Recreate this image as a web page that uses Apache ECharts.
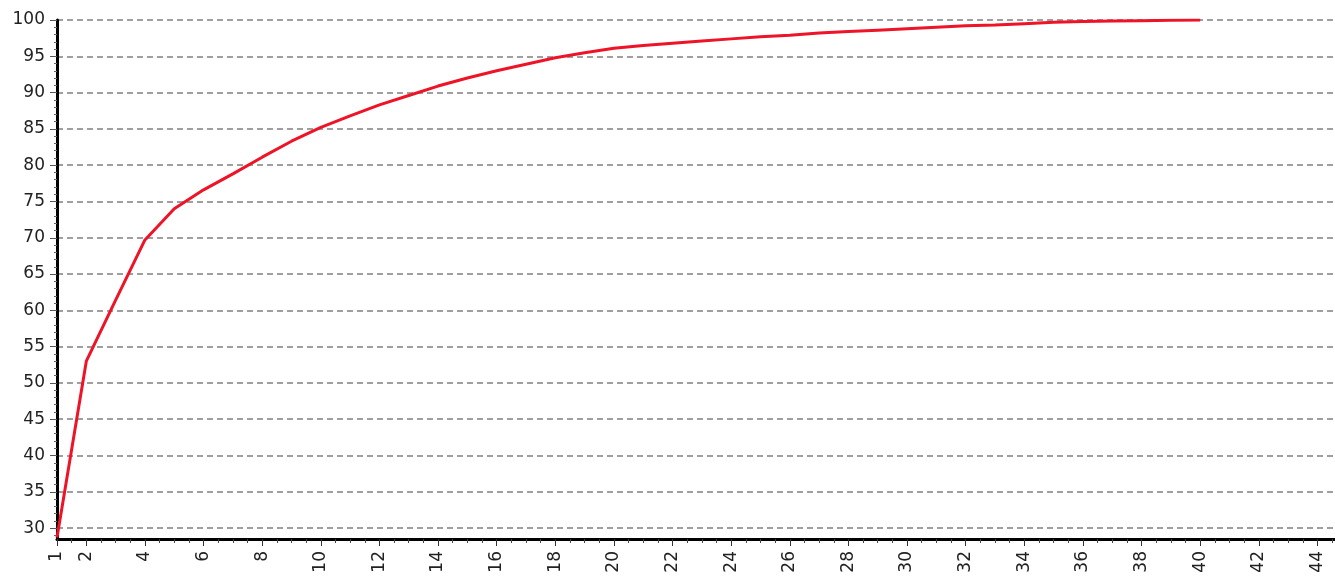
<!DOCTYPE html>
<html>
<head>
<meta charset="utf-8">
<script src="https://cdn.jsdelivr.net/npm/echarts@6/dist/echarts.min.js"></script>
<style>
  html, body { margin: 0; padding: 0; background: #fff; }
  #chart { width: 1335px; height: 585px; }
</style>
</head>
<body>
<div id="chart"></div>
<script>
// cumulative curve
var xValues = [1, 2, 3, 4, 5, 6, 7, 8, 9, 10,
  11, 12, 13, 14, 15, 16, 17, 18, 19, 20,
  21, 22, 23, 24, 25, 26, 27, 28, 29, 30,
  31, 32, 33, 34, 35, 36, 37, 38, 39, 40];
var yValues = [28.7, 53.0, 61.4, 69.7, 74.0, 76.6, 78.8, 81.1, 83.3, 85.2,
  86.8, 88.3, 89.6, 90.9, 92.0, 93.0, 93.9, 94.8, 95.5, 96.1,
  96.5, 96.8, 97.1, 97.4, 97.7, 97.9, 98.2, 98.4, 98.6, 98.8,
  99.0, 99.2, 99.3, 99.5, 99.7, 99.8, 99.85, 99.9, 99.95, 100];

var xTickLabels = [1, 2, 4, 6, 8, 10, 12, 14, 16, 18, 20, 22, 24, 26, 28, 30,
  32, 34, 36, 38, 40, 42, 44];
var xMinorTicks = [1.5, 2.5, 3, 3.5, 4.5, 5, 5.5, 6.5, 7, 7.5, 8.5, 9, 9.5, 10.5, 11, 11.5,
  12.5, 13, 13.5, 14.5, 15, 15.5, 16.5, 17, 17.5, 18.5, 19, 19.5, 20.5, 21, 21.5,
  22.5, 23, 23.5, 24.5, 25, 25.5, 26.5, 27, 27.5, 28.5, 29, 29.5, 30.5, 31, 31.5,
  32.5, 33, 33.5, 34.5, 35, 35.5, 36.5, 37, 37.5, 38.5, 39, 39.5, 40.5, 41, 41.5,
  42.5, 43, 43.5, 44.5];
var yTickLabels = [30, 35, 40, 45, 50, 55, 60, 65, 70, 75, 80, 85, 90, 95, 100];
var yMinorTicks = [29, 31, 32, 33, 34, 36, 37, 38, 39, 41, 42, 43, 44, 46, 47, 48, 49,
  51, 52, 53, 54, 56, 57, 58, 59, 61, 62, 63, 64, 66, 67, 68, 69, 71, 72, 73, 74,
  76, 77, 78, 79, 81, 82, 83, 84, 86, 87, 88, 89, 91, 92, 93, 94, 96, 97, 98, 99];

var X_MIN = 1, X_MAX = 44.6, Y_MIN = 28.5, Y_MAX = 100;

var points = xValues.map(function (x, i) { return [x, yValues[i]]; });

var labelFont = {
  color: '#222',
  fontFamily: 'DejaVu Sans, sans-serif',
  fontSize: 17
};

var chart = echarts.init(document.getElementById('chart'));

var option = {
  animation: false,
  backgroundColor: '#fff',
  grid: {
    left: 57, right: 0, top: 20, bottom: 46,
    containLabel: false,
    outerBoundsMode: 'none'
  },
  xAxis: [
    {
      type: 'value',
      min: X_MIN, max: X_MAX,
      position: 'bottom',
      axisLine: { show: true, onZero: false, lineStyle: { color: '#000', width: 3 } },
      axisTick: { show: true, length: 7, lineStyle: { color: '#333', width: 1 }, customValues: xTickLabels },
      axisLabel: Object.assign({ rotate: 90, margin: 12, customValues: xTickLabels }, labelFont),
      splitLine: { show: false }
    },
    {
      // minor ticks only
      type: 'value',
      min: X_MIN, max: X_MAX,
      position: 'bottom',
      offset: 0,
      axisLine: { show: false },
      axisTick: { show: true, length: 4, lineStyle: { color: '#444', width: 1 }, customValues: xMinorTicks },
      axisLabel: { show: false },
      splitLine: { show: false }
    }
  ],
  yAxis: [
    {
      type: 'value',
      min: Y_MIN, max: Y_MAX,
      axisLine: { show: true, onZero: false, lineStyle: { color: '#000', width: 3 } },
      axisTick: { show: true, length: 7, lineStyle: { color: '#555', width: 1 }, customValues: yTickLabels },
      axisLabel: Object.assign({ margin: 12, customValues: yTickLabels }, labelFont),
      splitLine: { show: true, lineStyle: { color: '#808080', width: 1.5, type: [6, 4] } }
    },
    {
      // minor ticks only
      type: 'value',
      min: Y_MIN, max: Y_MAX,
      position: 'left',
      offset: 0,
      axisLine: { show: false },
      axisTick: { show: true, length: 3, lineStyle: { color: '#666', width: 1 }, customValues: yMinorTicks },
      axisLabel: { show: false },
      splitLine: { show: false }
    }
  ],
  series: [
    {
      type: 'line',
      data: points,
      showSymbol: false,
      symbol: 'none',
      lineStyle: { color: '#ee1326', width: 3 },
      z: 5
    }
  ]
};

chart.setOption(option);
</script>
</body>
</html>
